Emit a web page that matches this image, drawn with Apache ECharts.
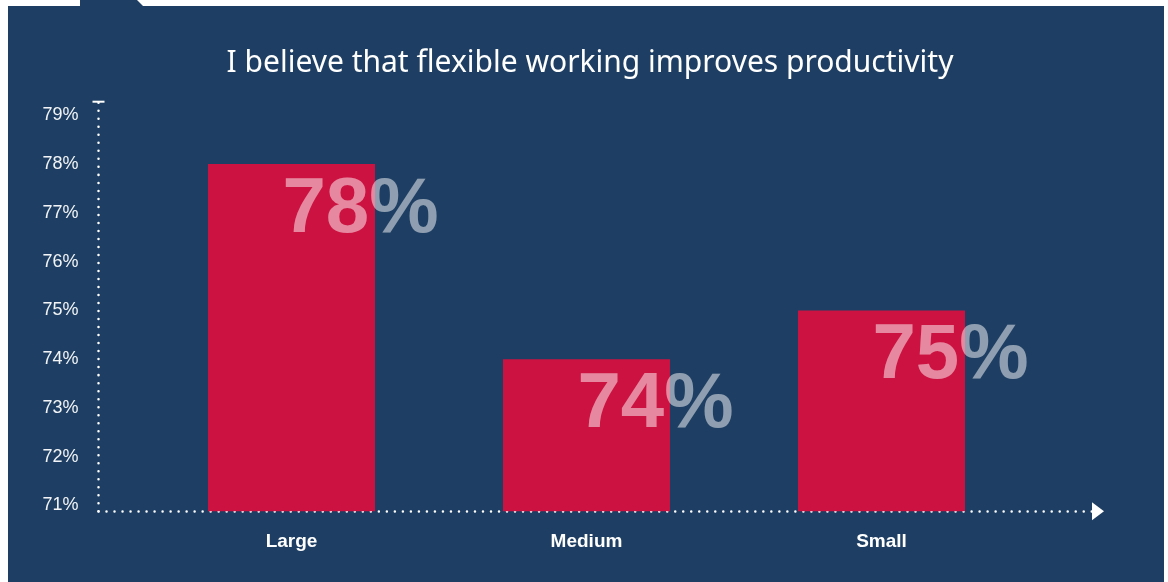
<!DOCTYPE html>
<html>
<head>
<meta charset="utf-8">
<title>Flexible working and productivity</title>
<script src="https://cdn.jsdelivr.net/npm/echarts@6/dist/echarts.min.js"></script>
<style>
  html, body { margin: 0; padding: 0; background: #ffffff; }
  #chart { width: 1168px; height: 582px; }
</style>
</head>
<body>
<div id="chart"></div>
<script>
// Share of respondents agreeing, by organisation size
const categories = ['Large', 'Medium', 'Small'];
const agreePct = [78, 74, 75];
const yTickValues = [71, 72, 73, 74, 75, 76, 77, 78, 79];
const titleText = 'I believe that flexible working improves productivity';

const NAVY = '#1e3f63';
const RED = '#cc1241';
const Y_MIN = 70.88;
const Y_MAX = 79.28;

// round white dots, 8px apart
const dotLine = { color: '#ffffff', width: 2.5, type: [0.01, 8], cap: 'round' };

const chart = echarts.init(document.getElementById('chart'), null, { renderer: 'canvas' });

chart.setOption({
  backgroundColor: '#ffffff',
  animation: false,
  graphic: [
    // navy panel with a small tab on its top edge
    { type: 'rect', z: -10, shape: { x: 8, y: 6, width: 1156, height: 576 }, style: { fill: NAVY } },
    { type: 'polygon', z: -10, shape: { points: [[80, 0], [137, 0], [143, 6], [80, 6]] }, style: { fill: NAVY } }
  ],
  title: {
    text: titleText,
    left: 585,
    textAlign: 'center',
    top: 43,
    textStyle: {
      color: '#ffffff',
      fontFamily: 'Noto Sans',
      fontWeight: 'normal',
      fontSize: 30
    }
  },
  grid: [
    // axes frame
    { left: 98.5, right: 70, top: 101.7, bottom: 70.7 },
    // bar area
    { left: 144, right: 139, top: 101.7, bottom: 70.7 }
  ],
  xAxis: [
    {
      type: 'value', gridIndex: 0, min: 0, max: 1,
      axisLine: {
        show: true,
        symbol: ['none', 'triangle'],
        symbolSize: [18, 12],
        lineStyle: dotLine
      },
      axisTick: { show: false },
      axisLabel: { show: false },
      splitLine: { show: false }
    },
    {
      type: 'category', gridIndex: 1, data: categories,
      axisLine: { show: false },
      axisTick: { show: false },
      axisLabel: {
        margin: 21,
        color: '#ffffff',
        fontFamily: 'Liberation Sans, Arial',
        fontWeight: 'bold',
        fontSize: 19
      },
      splitLine: { show: false }
    }
  ],
  yAxis: [
    {
      type: 'value', gridIndex: 0, min: Y_MIN, max: Y_MAX,
      axisLine: {
        show: true,
        symbol: ['none', 'rect'],
        symbolSize: [12, 2],
        lineStyle: dotLine
      },
      axisTick: { show: false },
      axisLabel: {
        customValues: yTickValues,
        formatter: '{value}%',
        margin: 20,
        color: '#f2f4f7',
        fontFamily: 'Liberation Sans, Arial',
        fontSize: 18
      },
      splitLine: { show: false }
    },
    {
      type: 'value', gridIndex: 1, min: Y_MIN, max: Y_MAX, show: false
    }
  ],
  series: [
    {
      type: 'bar',
      xAxisIndex: 1,
      yAxisIndex: 1,
      data: agreePct,
      barWidth: 167,
      itemStyle: { color: RED },
      label: {
        show: true,
        position: ['50%', 0],
        align: 'center',
        verticalAlign: 'middle',
        offset: [69, 46],
        formatter: '{c}%',
        color: 'rgba(255,255,255,0.5)',
        fontFamily: 'Liberation Sans, Arial',
        fontWeight: 'bold',
        fontSize: 78
      }
    }
  ]
});
</script>
</body>
</html>
